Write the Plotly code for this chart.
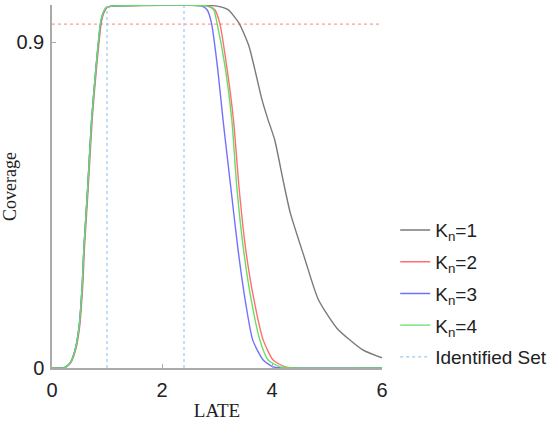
import plotly.graph_objects as go

# ---- data ----
k1_x = [0, 0.2, 0.25, 0.33, 0.42, 0.49, 0.55, 0.58, 0.65, 0.72, 0.80, 0.885, 0.93, 1.0, 1.1,
        3.0, 3.2, 3.4, 3.58, 3.68, 3.82, 3.93, 4.05, 4.2, 4.33, 4.6, 4.84, 5.18, 5.65, 6.0]
k1_y = [0, 0, 0.003, 0.014, 0.05, 0.11, 0.23, 0.33, 0.5, 0.685, 0.83, 0.953, 0.98, 0.997, 1.0,
        1.0, 0.99, 0.953, 0.89, 0.83, 0.74, 0.685, 0.63, 0.52, 0.43, 0.30, 0.19, 0.11, 0.05, 0.028]

k2_x = [0, 0.21, 0.26, 0.34, 0.43, 0.50, 0.56, 0.59, 0.66, 0.73, 0.81, 0.895, 0.94, 1.01, 1.1,
        2.84, 2.96, 3.05, 3.18, 3.3, 3.4, 3.52, 3.67, 3.84, 4.02, 4.24, 4.4, 6.0]
k2_y = [0, 0, 0.003, 0.014, 0.05, 0.11, 0.23, 0.33, 0.5, 0.685, 0.83, 0.953, 0.98, 0.997, 1.0,
        1.0, 0.99, 0.953, 0.83, 0.685, 0.5, 0.33, 0.19, 0.077, 0.022, 0.003, 0, 0]

k3_x = [0, 0.2, 0.25, 0.33, 0.42, 0.49, 0.55, 0.58, 0.65, 0.72, 0.80, 0.885, 0.93, 1.0, 1.1,
        2.72, 2.82, 2.9, 3.01, 3.11, 3.25, 3.38, 3.51, 3.65, 3.84, 4.02, 4.2, 6.0]
k3_y = [0, 0, 0.003, 0.014, 0.05, 0.11, 0.23, 0.33, 0.5, 0.685, 0.83, 0.953, 0.98, 0.997, 1.0,
        1.0, 0.99, 0.953, 0.83, 0.685, 0.5, 0.33, 0.19, 0.077, 0.022, 0.003, 0, 0]

k4_x = [0, 0.2, 0.25, 0.33, 0.42, 0.49, 0.55, 0.58, 0.65, 0.72, 0.80, 0.88, 0.925, 0.99, 1.1,
        2.82, 2.94, 3.0, 3.15, 3.27, 3.36, 3.48, 3.62, 3.78, 3.93, 4.15, 4.4, 6.0]
k4_y = [0, 0, 0.003, 0.014, 0.05, 0.11, 0.23, 0.33, 0.5, 0.685, 0.83, 0.953, 0.98, 0.997, 1.0,
        1.0, 0.99, 0.953, 0.83, 0.685, 0.5, 0.33, 0.19, 0.077, 0.022, 0.003, 0, 0]

identified_set = [1.0, 2.4]
nominal_level = 0.95

x_ticks = [0, 2, 4, 6]
y_ticks = [0, 0.9]

series = [
    ("K<sub>n</sub>=1", k1_x, k1_y, "#7a7a7a"),
    ("K<sub>n</sub>=2", k2_x, k2_y, "#ff6f6f"),
    ("K<sub>n</sub>=3", k3_x, k3_y, "#7070ff"),
    ("K<sub>n</sub>=4", k4_x, k4_y, "#66dd66"),
]

fig = go.Figure()

# nominal level line
fig.add_trace(go.Scatter(x=[x_ticks[0], x_ticks[-1]], y=[nominal_level, nominal_level],
                         mode="lines", line=dict(color="#ff9a9a", width=1.2, dash="dot"),
                         showlegend=False, hoverinfo="skip"))

for i, (name, xs, ys, col) in enumerate(series):
    fig.add_trace(go.Scatter(x=xs, y=ys, mode="lines", name=name, legendgroup=f"g{i}",
                             line=dict(color=col, width=1.4, shape="spline", smoothing=0.6)))

# identified set bounds
idx, idy = [], []
for b in identified_set:
    idx += [b, b, None]
    idy += [0, 1.0, None]
fig.add_trace(go.Scatter(x=idx, y=idy, mode="lines", name="Identified Set", legendgroup="gid",
                         line=dict(color="#9cc8ee", width=1.2, dash="dot")))

fig.update_layout(
    width=552, height=424,
    margin=dict(l=52, r=170, t=5, b=56, autoexpand=False),
    paper_bgcolor="white", plot_bgcolor="white",
    font=dict(family="Liberation Sans, Arial, sans-serif", size=20, color="#222"),
    legend=dict(x=1.04, y=0.432, xanchor="left", yanchor="top",
                font=dict(size=19, family="Liberation Sans, Arial, sans-serif"),
                itemwidth=30, tracegroupgap=4, bgcolor="rgba(0,0,0,0)"),
    xaxis=dict(range=[0, 6], tickvals=x_ticks, ticks="inside", ticklen=4,
               tickcolor="#aaa", showline=True, linecolor="#aaa", linewidth=1.5,
               showgrid=False, zeroline=False, mirror=False, ticklabelstandoff=3,
               title=dict(text="LATE", font=dict(family="Liberation Serif, Times New Roman, serif", size=19),
                          standoff=4)),
    yaxis=dict(range=[0, 1.003], tickvals=y_ticks, ticktext=["0", "0.9"], ticks="inside", ticklen=4,
               tickcolor="#aaa", showline=True, linecolor="#aaa", linewidth=1.5,
               showgrid=False, zeroline=False, mirror=False, ticklabelstandoff=2,
               title=dict(text="Coverage", font=dict(family="Liberation Serif, Times New Roman, serif", size=18),
                          standoff=4)),
)

fig.write_html("out.html")
